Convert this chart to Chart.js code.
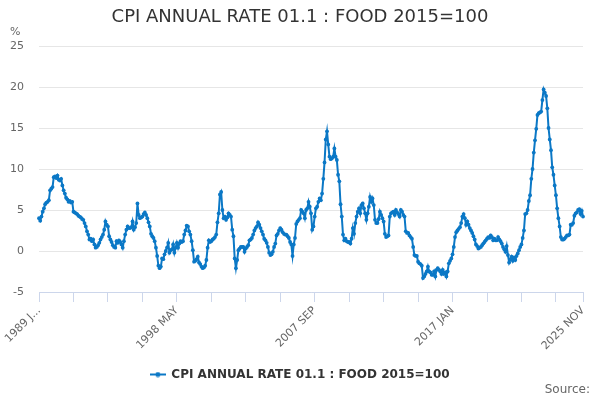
<!DOCTYPE html>
<html>
<head>
<meta charset="utf-8">
<script src="https://cdn.jsdelivr.net/npm/chart.js@4.4.1/dist/chart.umd.min.js"></script>
<style>
  html, body { margin: 0; padding: 0; background: #ffffff; }
  #wrap { width: 600px; height: 400px; }
</style>
</head>
<body>
<div id="wrap"><canvas id="cpiChart" width="600" height="400"></canvas></div>
<script>
const chartTitle = "CPI ANNUAL RATE 01.1 : FOOD 2015=100";
const firstYear = 1989;
const monthNames = ["JAN", "FEB", "MAR", "APR", "MAY", "JUN", "JUL", "AUG", "SEP", "OCT", "NOV", "DEC"];
const yTicks = [-5, 0, 5, 10, 15, 20, 25];
const tickEvery = 28;   // months between axis tick marks
const labelEvery = 112; // months between axis labels

// annual rate (%), one row per year, Jan..Dec; last row ends in Nov 2025
const values = [
  4.0, 3.7, 4.2, 4.8, 5.2, 5.7, 5.9, 6.0, 6.2, 7.4, 7.6, 7.8,
  9.0, 9.1, 8.9, 9.2, 8.7, 8.6, 8.8, 8.0, 7.4, 7.0, 6.5, 6.3,
  6.0, 6.1, 5.9, 6.0, 4.8, 4.7, 4.6, 4.5, 4.3, 4.2, 4.1, 3.9,
  3.8, 3.4, 3.0, 2.4, 2.0, 1.4, 1.5, 1.2, 1.4, 0.8, 0.4, 0.5,
  0.7, 1.0, 1.4, 1.7, 2.0, 2.6, 3.6, 3.2, 3.0, 1.8, 1.4, 1.1,
  0.7, 0.5, 0.4, 1.2, 1.0, 1.3, 1.1, 0.8, 0.4, 1.2, 2.0, 2.6,
  3.0, 2.8, 2.8, 2.9, 3.6, 2.6, 2.9, 3.4, 5.8, 4.4, 4.0, 4.1,
  4.2, 4.5, 4.7, 4.4, 4.0, 3.5, 3.0, 2.1, 1.8, 1.6, 1.2, 0.4,
  -0.6, -1.8, -2.1, -1.9, -0.9, -1.0, -0.4, 0.0, 0.4, 1.0, -0.2, 0.1,
  0.2, 0.8, -0.2, 0.4, 1.0, 0.4, 0.9, 1.2, 1.1, 1.2, 2.0, 2.5,
  3.1, 3.0, 2.4, 2.0, 1.2, 0.1, -1.3, -1.2, -1.0, -0.7, -1.4, -1.6,
  -1.9, -2.1, -2.0, -1.8, -1.1, 0.4, 1.3, 1.1, 1.2, 1.4, 1.5, 1.7,
  2.0, 3.5, 4.6, 6.9, 7.2, 5.0, 4.0, 4.2, 3.8, 4.1, 4.6, 4.4,
  4.2, 2.6, 1.8, -0.9, -2.1, -1.1, 0.1, 0.3, 0.5, 0.5, 0.5, -0.1,
  0.3, 0.5, 0.7, 1.3, 1.4, 1.6, 2.0, 2.5, 2.8, 3.0, 3.5, 3.2,
  2.8, 2.4, 2.0, 1.5, 1.3, 1.0, 0.5, -0.2, -0.5, -0.4, -0.1, 0.5,
  0.9, 1.9, 2.1, 2.5, 2.8, 2.6, 2.3, 2.1, 2.0, 2.0, 1.8, 1.6,
  1.1, 0.8, -0.6, 0.8, 1.6, 3.3, 3.6, 3.8, 4.0, 5.0, 4.8, 4.6,
  4.0, 5.0, 5.2, 6.0, 5.4, 4.6, 2.6, 3.0, 4.2, 5.2, 5.4, 6.0,
  6.4, 6.2, 7.0, 8.8, 10.8, 13.6, 14.6, 13.0, 11.5, 11.2, 11.3, 11.5,
  12.5, 11.5, 11.1, 9.3, 8.5, 5.7, 4.2, 2.0, 1.3, 1.5, 1.2, 1.1,
  1.1, 0.9, 1.5, 2.8, 2.1, 3.4, 4.2, 4.8, 5.2, 4.6, 5.6, 5.8,
  5.2, 4.6, 3.8, 4.6, 5.4, 6.6, 6.0, 6.4, 5.6, 3.8, 3.4, 3.4,
  3.9, 4.8, 4.4, 4.0, 3.6, 2.1, 1.7, 1.8, 1.9, 4.2, 4.6, 4.7,
  4.8, 4.4, 5.0, 4.7, 4.5, 4.2, 5.0, 4.8, 4.4, 4.2, 2.4, 2.2,
  2.2, 1.9, 1.7, 1.5, 0.5, -0.5, -0.6, -0.6, -1.3, -1.5, -1.6, -1.8,
  -3.3, -3.1, -2.8, -2.5, -1.9, -2.5, -2.6, -2.9, -2.9, -2.5, -3.1, -2.3,
  -2.1, -2.3, -2.5, -2.8, -2.3, -2.8, -2.6, -3.1, -2.5, -1.5, -1.2, -0.9,
  -0.4, 0.5, 1.7, 2.3, 2.5, 2.7, 2.9, 3.4, 4.2, 4.5, 4.0, 3.2,
  3.6, 3.2, 2.8, 2.5, 2.2, 1.8, 1.4, 0.8, 0.6, 0.3, 0.4, 0.5,
  0.7, 0.9, 1.1, 1.3, 1.5, 1.7, 1.6, 1.9, 1.7, 1.3, 1.5, 1.3,
  1.3, 1.7, 1.4, 1.2, 0.9, 0.5, 0.2, -0.1, 0.6, -0.5, -1.4, -1.0,
  -0.7, -1.2, -0.8, -1.1, -0.6, -0.3, 0.1, 0.5, 0.8, 1.6, 2.5, 4.5,
  4.6, 5.0, 6.1, 6.8, 8.8, 10.0, 12.0, 13.5, 14.9, 16.6, 16.8, 16.9,
  17.0, 18.4, 19.7, 19.3, 18.9, 17.4, 15.0, 13.6, 12.3, 10.2, 9.3, 8.0,
  6.8, 5.2, 4.0, 3.0, 1.7, 1.4, 1.4, 1.5, 1.7, 1.9, 1.9, 2.0,
  3.2, 3.2, 3.4, 4.3, 4.6, 4.7, 5.0, 5.1, 4.5, 4.9, 4.2,
];

const labels = values.map((_, i) =>
  `${firstYear + Math.floor(i / 12)} ${monthNames[i % 12]}`
);

document.addEventListener("DOMContentLoaded", () => {
  const canvas = document.getElementById("cpiChart");
  if (!canvas || typeof Chart === "undefined") {
    return;
  }

  const colors = {
    line: "#0b78c6",
    title: "#333333",
    text: "#666666",
    grid: "#e6e6e6",
    axis: "#ccd6eb",
  };
  const fontFamily = "'DejaVu Sans', sans-serif";
  Chart.defaults.font.family = fontFamily;

  const lastIndex = values.length - 1;

  // small line-with-dot symbol for the legend
  const legendIcon = document.createElement("canvas");
  legendIcon.width = 16;
  legendIcon.height = 6;
  const iconCtx = legendIcon.getContext("2d");
  iconCtx.strokeStyle = colors.line;
  iconCtx.lineWidth = 2;
  iconCtx.beginPath();
  iconCtx.moveTo(0, 3);
  iconCtx.lineTo(16, 3);
  iconCtx.stroke();
  iconCtx.fillStyle = colors.line;
  iconCtx.beginPath();
  iconCtx.arc(8, 3, 2.5, 0, Math.PI * 2);
  iconCtx.fill();

  const extraText = {
    id: "extraText",
    afterDraw(chart) {
      const { ctx } = chart;
      ctx.save();
      ctx.fillStyle = colors.text;
      ctx.textBaseline = "middle";
      ctx.font = `11px ${fontFamily}`;
      ctx.textAlign = "left";
      ctx.fillText("%", 10, 32);
      ctx.font = `12px ${fontFamily}`;
      ctx.textAlign = "right";
      ctx.fillText("Source:", 590, 390);
      ctx.restore();
    },
  };

  new Chart(canvas.getContext("2d"), {
    type: "line",
    data: {
      labels,
      datasets: [
        {
          label: chartTitle,
          data: values,
          borderColor: colors.line,
          backgroundColor: colors.line,
          borderWidth: 2,
          pointRadius: 1.9,
          pointBorderWidth: 0,
          pointHoverRadius: 3,
          tension: 0,
        },
      ],
    },
    options: {
      responsive: false,
      animation: false,
      layout: { padding: { left: 0, right: 0, top: 0, bottom: 9.5 } },
      plugins: {
        title: {
          display: true,
          text: chartTitle,
          color: colors.title,
          font: { size: 18, weight: "normal" },
          padding: { top: 7, bottom: 17.4 },
        },
        legend: {
          position: "bottom",
          labels: {
            usePointStyle: true,
            pointStyle: legendIcon,
            pointStyleWidth: 15,
            padding: 10,
            color: colors.title,
            font: { size: 12, weight: "bold" },
          },
        },
        tooltip: { enabled: false },
      },
      scales: {
        x: {
          type: "category",
          grid: {
            drawOnChartArea: false,
            drawTicks: true,
            tickLength: 10,
            color: colors.axis,
          },
          border: { display: true, color: colors.axis, width: 1 },
          ticks: {
            autoSkip: false,
            minRotation: 45,
            maxRotation: 45,
            padding: 2,
            color: colors.text,
            font: { size: 11 },
            callback(value) {
              if (value === 0) {
                return labels[0].slice(0, 6) + "...";
              }
              if (value % labelEvery === 0 || value === lastIndex) {
                return labels[value];
              }
              return "";
            },
          },
          afterBuildTicks(scale) {
            scale.ticks = scale.ticks.filter(
              (t) => t.value % tickEvery === 0 || t.value === lastIndex,
            );
          },
          afterFit(scale) {
            scale.height = 66.5;
            scale.paddingLeft = 0;
            scale.paddingRight = 0;
          },
        },
        y: {
          min: yTicks[0],
          max: yTicks[yTicks.length - 1],
          grid: { color: colors.grid, drawTicks: false },
          border: { display: false },
          ticks: {
            stepSize: yTicks[1] - yTicks[0],
            padding: 15,
            color: colors.text,
            font: { size: 11 },
          },
          afterFit(scale) {
            scale.width = 39;
          },
        },
        // empty right-hand gutter so the plot ends at the same place as the reference
        gutter: {
          position: "right",
          grid: { display: false },
          border: { display: false },
          ticks: { display: false },
          afterFit(scale) {
            scale.width = 17;
          },
        },
      },
    },
    plugins: [extraText],
  });
});
</script>
</body>
</html>
